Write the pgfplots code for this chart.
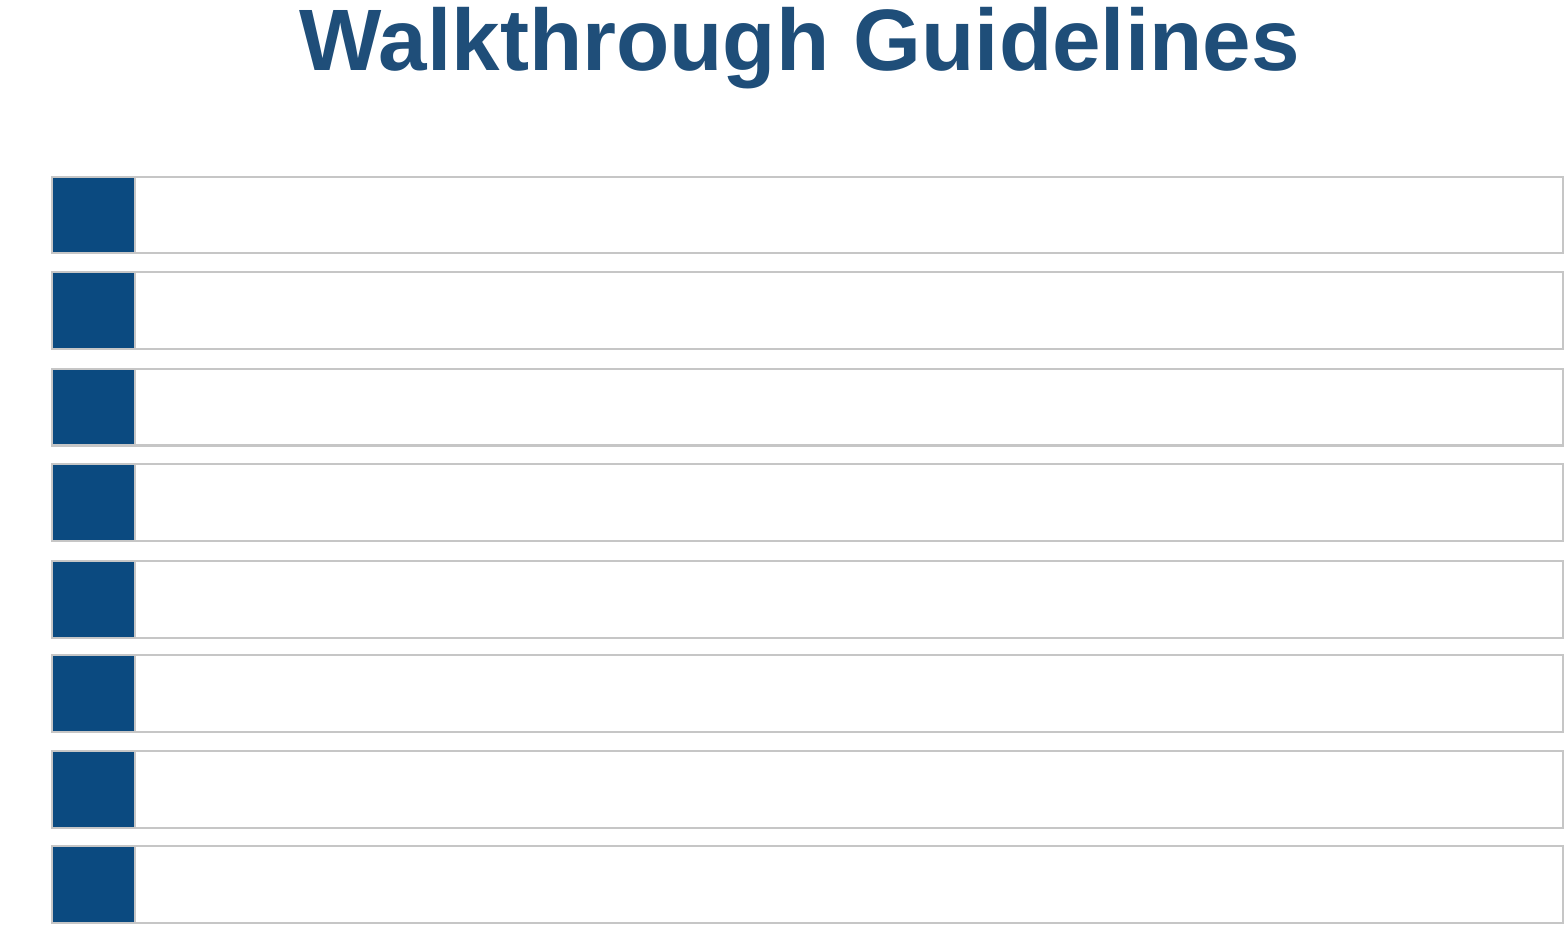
\documentclass[border=0pt]{standalone}
\usepackage{pgfplots}
\pgfplotsset{compat=1.18}
\usepackage{fontspec}
\setmainfont{Liberation Sans}
\definecolor{navy}{HTML}{0B4A80}
\definecolor{ttl}{HTML}{1F4E79}
\newcommand{\row}[3]{%
 \node[text=white,font=\bfseries\fontsize{28}{30}\selectfont] at (axis cs:88,#2) {#1};
 \node[anchor=west,text=black!85!blue,font=\fontsize{21}{24}\selectfont] at (axis cs:165,#2) {#3};}
\begin{document}
\begin{tikzpicture}
\begin{axis}[x=0.5pt,y=0.5pt,y dir=reverse,xmin=0,xmax=1564,ymin=0,ymax=994,
  hide axis,clip=false,xbar stacked,bar width=74]
\addplot[draw=none,fill=none] coordinates {(50,223) (50,315) (50,408) (50,500) (50,593) (50,684) (50,776) (50,868)};
\addplot[draw=gray!45,fill=navy,line width=1pt] coordinates {(80,223) (80,315) (80,408) (80,500) (80,593) (80,684) (80,776) (80,868)};
\addplot[draw=gray!45,fill=white,line width=1pt] coordinates {(1375,223) (1375,315) (1375,408) (1375,500) (1375,593) (1375,684) (1375,776) (1375,868)};
\node[text=ttl,font=\bfseries\fontsize{42}{48}\selectfont] at (axis cs:770,62) {Walkthrough Guidelines};
\row{1}{223}{Minimize the number of objectives for the walkthrough}
\row{2}{315}{Only invite those who can contribute}
\row{3}{408}{Clearly communicate purpose \& expectations}
\row{4}{500}{Use a checklist to help reviewers focus attention}
\row{5}{593}{Limit review meeting time}
\row{6}{684}{Produce an issues list}
\row{7}{776}{Include a follow-up step}
\row{8}{868}{Log issues but limit discussion of solutions}
\end{axis}
\end{tikzpicture}
\end{document}
